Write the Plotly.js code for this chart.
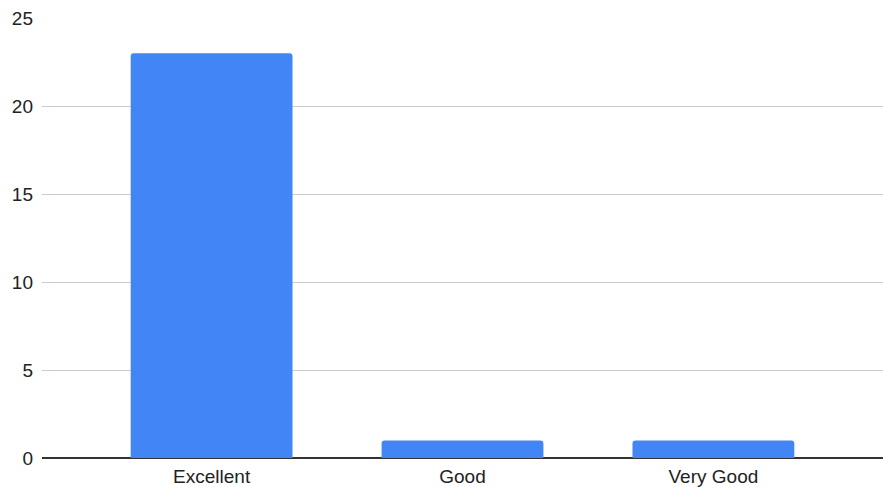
<!DOCTYPE html>
<html>
<head>
<meta charset="utf-8">
<script src="https://cdn.plot.ly/plotly-3.0.1.min.js"></script>
<style>
html,body{margin:0;padding:0;background:#fff;}
#chart{width:883px;height:497px;}
</style>
</head>
<body>
<div id="chart"></div>
<script>
var categories = ["Excellent", "Good", "Very Good"];
var counts = [23, 1, 1];
var yTicks = [0, 5, 10, 15, 20, 25];

var trace = {
  type: "bar",
  x: categories,
  y: counts,
  width: 0.645,
  marker: {color: "#4285f4", line: {width: 0}},
  hoverinfo: "x+y"
};

var layout = {
  width: 883,
  height: 497,
  margin: {l: 42, r: 0, t: 18, b: 39, pad: 0},
  paper_bgcolor: "#ffffff",
  plot_bgcolor: "#ffffff",
  barcornerradius: 3,
  showlegend: false,
  font: {family: "Liberation Sans, Arial, sans-serif", size: 19, color: "#222222"},
  xaxis: {
    type: "category",
    range: [-0.676, 2.676],
    showgrid: false,
    showline: false,
    zeroline: false,
    ticks: "",
    ticklabelstandoff: 5,
    tickfont: {size: 19, color: "#222222"},
    fixedrange: true
  },
  yaxis: {
    range: [0, 25],
    tickvals: yTicks,
    ticktext: yTicks.map(String),
    showgrid: true,
    gridcolor: "#cccccc",
    gridwidth: 1,
    zeroline: true,
    zerolinecolor: "#333333",
    zerolinewidth: 1.3,
    showline: false,
    ticks: "",
    ticklabelstandoff: 8,
    tickfont: {size: 19, color: "#222222"},
    fixedrange: true
  }
};

Plotly.newPlot("chart", [trace], layout, {displayModeBar: false, staticPlot: true});
</script>
</body>
</html>
